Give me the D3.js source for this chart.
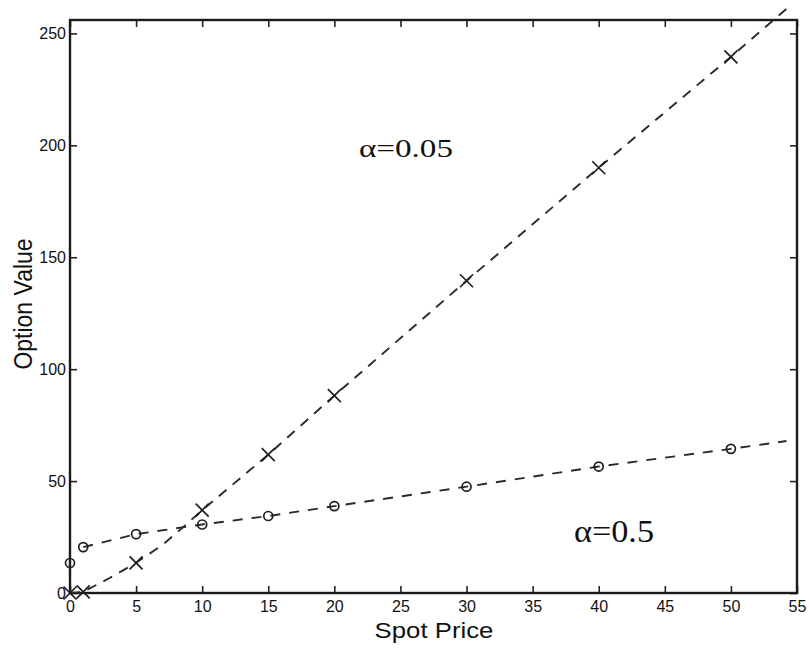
<!DOCTYPE html>
<html>
<head>
<meta charset="utf-8">
<script src="https://cdn.jsdelivr.net/npm/d3@7"></script>
<style>
  body { margin: 0; background: #fff; }
  svg text { fill: #111; }
</style>
</head>
<body>
<svg id="chart"></svg>
<script>
const width = 809;
const height = 649;

// marker points, alpha = 0.05 (crosses)
const spotMarks = [0, 1, 5, 10, 15, 20, 30, 40, 50];
const valueLow = [0, 0.5, 13.5, 37, 61.8, 88.2, 139.5, 190, 239.5];
// dashed curve, alpha = 0.05
const curveLowX = [0, 1, 3, 5, 7, 8, 10, 15, 20, 30, 40, 50, 54.2];
const curveLowY = [0, 0.5, 6.7, 13.5, 21.5, 26.5, 37, 61.8, 88.2, 139.5, 190, 239.5, 261];

// marker points, alpha = 0.5 (circles)
const valueHigh = [13.4, 20.5, 26.3, 30.6, 34.4, 38.8, 47.5, 56.5, 64.4];
// dashed curve, alpha = 0.5
const curveHighX = [1, 5, 10, 15, 20, 30, 40, 50, 54.2];
const curveHighY = [20.5, 26.3, 30.6, 34.4, 38.8, 47.5, 56.5, 64.4, 67.9];

const xTicks = [0, 5, 10, 15, 20, 25, 30, 35, 40, 45, 50, 55];
const yTicks = [0, 50, 100, 150, 200, 250];

const svg = d3.select('#chart')
    .attr('width', width)
    .attr('height', height);

const x = d3.scaleLinear().domain([0, 55]).range([70, 797]);
const y = d3.scaleLinear().domain([0, 256]).range([593, 20]);

const tickFont = '16px "Liberation Sans", Arial, sans-serif';

// axes with inward ticks
const gBottom = svg.append('g').attr('transform', `translate(0,${y(0)})`)
    .call(d3.axisBottom(x).tickValues(xTicks).tickSize(-7).tickSizeOuter(0).tickPadding(8));
const gLeft = svg.append('g').attr('transform', `translate(${x(0)},0)`)
    .call(d3.axisLeft(y).tickValues(yTicks).tickSize(-7).tickSizeOuter(0).tickPadding(4));
const gTop = svg.append('g').attr('transform', `translate(0,${y(256)})`)
    .call(d3.axisTop(x).tickValues(xTicks).tickSize(-7).tickSizeOuter(0).tickFormat(''));
const gRight = svg.append('g').attr('transform', `translate(${x(55)},0)`)
    .call(d3.axisRight(y).tickValues(yTicks).tickSize(-7).tickSizeOuter(0).tickFormat(''));

[gBottom, gLeft, gTop, gRight].forEach(g => {
  g.select('.domain').remove();
  g.selectAll('line').attr('stroke', '#222').attr('stroke-width', 1.6);
  g.selectAll('text').style('font', tickFont).attr('fill', '#1a1a1a');
});

// box
svg.append('rect')
    .attr('x', x(0)).attr('y', y(256))
    .attr('width', x(55) - x(0)).attr('height', y(0) - y(256))
    .attr('fill', 'none').attr('stroke', '#1a1a1a').attr('stroke-width', 2.4);

// dashed curves (not clipped, like the original)
const line = d3.line().x(d => x(d[0])).y(d => y(d[1]));

svg.append('path')
    .datum(curveLowX.map((v, i) => [v, curveLowY[i]]))
    .attr('d', line)
    .attr('fill', 'none').attr('stroke', '#2a2a2a').attr('stroke-width', 1.9)
    .attr('stroke-dasharray', '10,8');

svg.append('path')
    .datum(curveHighX.map((v, i) => [v, curveHighY[i]]))
    .attr('d', line)
    .attr('fill', 'none').attr('stroke', '#2a2a2a').attr('stroke-width', 1.9)
    .attr('stroke-dasharray', '10,9');

// cross markers
const s = 6.5;
svg.append('g').selectAll('path')
    .data(spotMarks.map((v, i) => [v, valueLow[i]]))
    .enter().append('path')
    .attr('d', d => {
      const cx = x(d[0]), cy = y(d[1]);
      return `M${cx - s},${cy - s}L${cx + s},${cy + s}M${cx - s},${cy + s}L${cx + s},${cy - s}`;
    })
    .attr('stroke', '#1f1f1f').attr('stroke-width', 1.7).attr('fill', 'none');

// circle markers
svg.append('g').selectAll('circle')
    .data(spotMarks.map((v, i) => [v, valueHigh[i]]))
    .enter().append('circle')
    .attr('cx', d => x(d[0]))
    .attr('cy', d => y(d[1]))
    .attr('r', 4.5)
    .attr('fill', 'none').attr('stroke', '#1f1f1f').attr('stroke-width', 1.7);

// annotations
svg.append('text')
    .attr('x', 359).attr('y', 157)
    .attr('textLength', 94).attr('lengthAdjust', 'spacingAndGlyphs')
    .style('font', '25px "Liberation Serif", "Times New Roman", serif')
    .text('α=0.05');

svg.append('text')
    .attr('x', 574).attr('y', 542)
    .attr('textLength', 80).attr('lengthAdjust', 'spacingAndGlyphs')
    .style('font', '32px "Liberation Serif", "Times New Roman", serif')
    .text('α=0.5');

// axis titles
svg.append('text')
    .attr('transform', 'translate(434,638) scale(1.12,1)')
    .attr('text-anchor', 'middle')
    .style('font', '23px "Liberation Sans", Arial, sans-serif')
    .text('Spot Price');

svg.append('text')
    .attr('transform', 'translate(32,304) scale(1.12,1) rotate(-90)')
    .attr('text-anchor', 'middle')
    .style('font', '23px "Liberation Sans", Arial, sans-serif')
    .text('Option Value');
</script>
</body>
</html>
